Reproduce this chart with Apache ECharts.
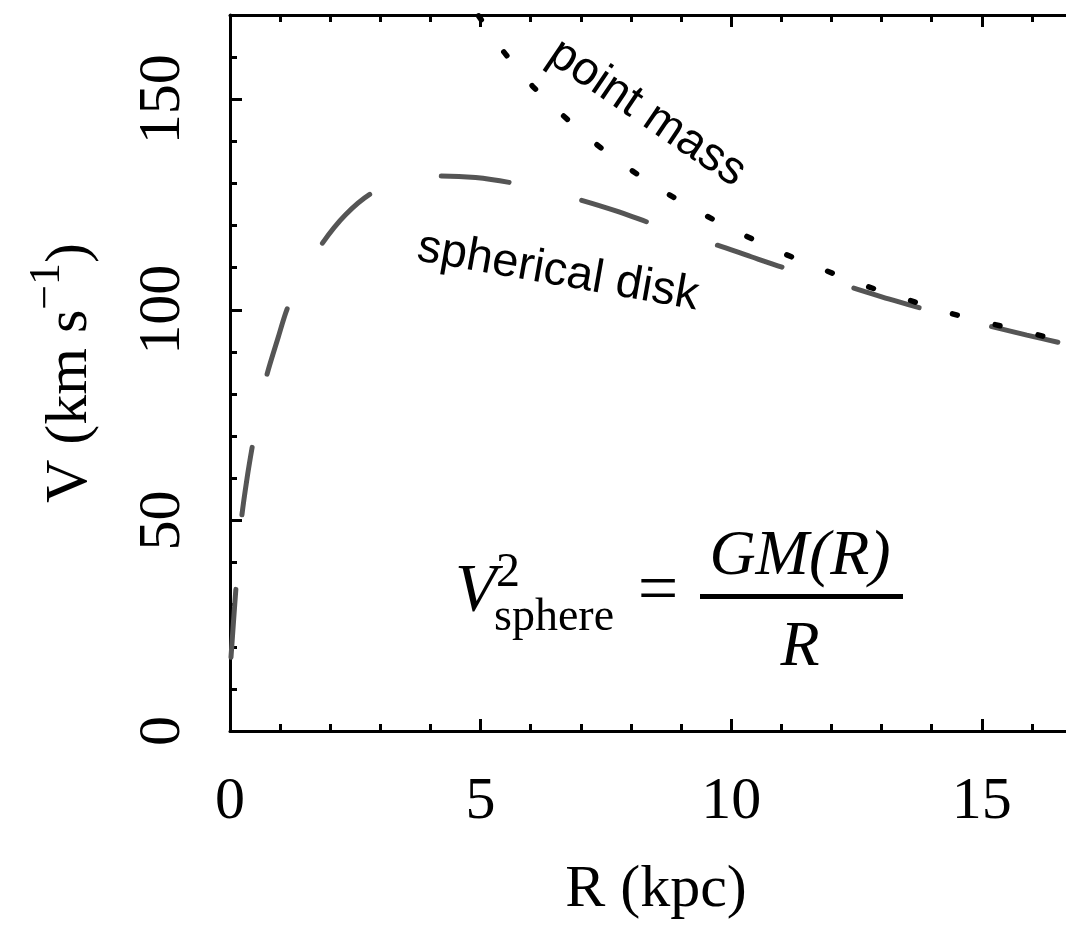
<!DOCTYPE html>
<html>
<head>
<meta charset="utf-8">
<script src="https://cdn.jsdelivr.net/npm/echarts@6/dist/echarts.min.js"></script>
<style>
html,body{margin:0;padding:0;background:#ffffff;}
#chart{width:1066px;height:929px;}
</style>
</head>
<body>
<div id="chart"></div>
<script>
// ---- data ----
// spherical disk rotation curve: R (kpc), V (km/s)
const diskR = [0.02, 0.07, 0.12, 0.18, 0.23, 0.34, 0.45, 0.59, 0.73, 0.95, 1.16, 1.5, 1.83, 2.3, 2.83, 3.5, 4.19, 4.9, 5.64, 6.3, 6.99, 7.7, 8.38, 9.0, 9.71, 10.4, 11.08, 11.76, 12.44, 13.14, 13.84, 14.5, 15.2, 15.9, 16.6, 17.0];
const diskV = [17.5, 26, 34.1, 43, 50.5, 60, 67.9, 77, 84.3, 93, 100.8, 109, 115.6, 122.5, 127.7, 130.8, 131.8, 131.4, 130.1, 128.3, 126.1, 123.5, 120.6, 118, 115.4, 112.6, 109.9, 107.5, 105.2, 102.6, 100.2, 98, 96.0, 94, 92.1, 91.2];
// point mass (Keplerian) curve
const pointR = [4.96, 5.46, 6.03, 6.63, 7.30, 7.99, 8.70, 9.46, 10.25, 11.02, 11.81, 12.63, 13.43, 14.28, 15.12, 15.98, 16.7, 17.0];
const pointV = [169.8, 161.3, 153.2, 146.3, 139.4, 133.3, 127.8, 122.6, 117.8, 113.5, 109.7, 105.9, 102.8, 99.5, 96.9, 94.5, 92.2, 91.4];
// axes
const xRange = [0, 17];
const yRange = [0, 170];
const xMajorStep = 5, xMinorStep = 1;
const yMajorStep = 50, yMinorStep = 10;
const xTitle = 'R (kpc)';
const yTitleMain = 'V (km s';
const yTitleSup = '\u22121';
const labelPoint = 'point mass';
const labelDisk = 'spherical disk';

const tickFont = 'Liberation Serif';
const chart = echarts.init(document.getElementById('chart'), null, {renderer: 'canvas'});

function pairs(a, b) { return a.map((v, i) => [v, b[i]]); }

const axisLine = {show: true, lineStyle: {color: '#000', width: 3}};
function xAx(pos, step, tickLen, opts) {
  return Object.assign({
    type: 'value', position: pos, min: xRange[0], max: xRange[1], interval: step,
    axisLine: {show: false}, splitLine: {show: false},
    axisTick: {show: true, inside: true, length: tickLen, lineStyle: {color: '#000', width: 3}},
    axisLabel: {show: false}
  }, opts || {});
}
function yAx(pos, step, tickLen, opts) {
  return Object.assign({
    type: 'value', position: pos, min: yRange[0], max: yRange[1], interval: step,
    axisLine: {show: false}, splitLine: {show: false},
    axisTick: {show: true, inside: true, length: tickLen, lineStyle: {color: '#000', width: 3}},
    axisLabel: {show: false}
  }, opts || {});
}

const option = {
  backgroundColor: '#ffffff',
  animation: false,
  grid: {left: 230, top: 15, width: 852, height: 716, containLabel: false, outerBoundsMode: 'none'},
  xAxis: [
    xAx('bottom', xMajorStep, 12, {
      axisLine: axisLine,
      axisLabel: {show: true, showMaxLabel: false, margin: 41, color: '#000', fontFamily: tickFont, fontSize: 60},
      name: xTitle, nameLocation: 'middle', nameGap: 129,
      nameTextStyle: {color: '#000', fontFamily: tickFont, fontSize: 60}
    }),
    xAx('bottom', xMinorStep, 7),
    xAx('top', xMajorStep, 12, {axisLine: axisLine}),
    xAx('top', xMinorStep, 7)
  ],
  yAxis: [
    yAx('left', yMajorStep, 12, {
      axisLine: axisLine,
      axisLabel: {show: true, showMaxLabel: false, rotate: 90, margin: 37, color: '#000', fontFamily: tickFont, fontSize: 60},
      name: '', nameLocation: 'middle', nameGap: 130,
      nameTextStyle: {
        color: '#000', fontFamily: tickFont, fontSize: 60,
        rich: {
          a: {fontFamily: tickFont, fontSize: 60, lineHeight: 60, color: '#000'},
          s: {fontFamily: tickFont, fontSize: 44, lineHeight: 44, padding: [0, 0, 46, 0], color: '#000'}
        }
      }
    }),
    yAx('left', yMinorStep, 7)
  ],
  series: [
    {
      name: 'spherical disk', type: 'line', xAxisIndex: 0, yAxisIndex: 0,
      data: pairs(diskR, diskV), showSymbol: false, symbol: 'none', smooth: 0.3,
      lineStyle: {color: '#555555', width: 5, type: [68, 75], cap: 'round'},
      z: 3
    },
    {
      name: 'point mass', type: 'line', xAxisIndex: 0, yAxisIndex: 0,
      data: pairs(pointR, pointV), showSymbol: false, symbol: 'none', smooth: 0.2,
      lineStyle: {color: '#000000', width: 5.5, type: [5, 39], cap: 'round'},
      z: 4
    }
  ],
  graphic: [
    {type: 'text', x: 647, y: 113, rotation: -34 * Math.PI / 180,
     style: {text: labelPoint, font: '47px "Liberation Sans"', fill: '#000', textAlign: 'center', textVerticalAlign: 'middle'}},
    {type: 'text', x: 558, y: 272, rotation: -10 * Math.PI / 180,
     style: {text: labelDisk, font: '47px "Liberation Sans"', fill: '#000', textAlign: 'center', textVerticalAlign: 'middle'}},
    // formula
    {type: 'text', x: 455, y: 592,
     style: {text: 'V', font: 'italic 68px "Liberation Serif"', fill: '#000', textAlign: 'left', textVerticalAlign: 'middle'}},
    {type: 'text', x: 496, y: 573,
     style: {text: '2', font: '48px "Liberation Serif"', fill: '#000', textAlign: 'left', textVerticalAlign: 'middle'}},
    {type: 'text', x: 494, y: 618,
     style: {text: 'sphere', font: '46px "Liberation Serif"', fill: '#000', textAlign: 'left', textVerticalAlign: 'middle'}},
    {type: 'text', x: 658, y: 593,
     style: {text: '=', font: '72px "Liberation Serif"', fill: '#000', textAlign: 'center', textVerticalAlign: 'middle'}},
    {type: 'rect', shape: {x: 700, y: 594, width: 203, height: 5}, style: {fill: '#000'}},
    {type: 'text', x: 800, y: 557,
     style: {text: 'GM(R)', font: 'italic 64px "Liberation Serif"', fill: '#000', textAlign: 'center', textVerticalAlign: 'middle'}},
    {type: 'text', x: 800, y: 648,
     style: {text: 'R', font: 'italic 64px "Liberation Serif"', fill: '#000', textAlign: 'center', textVerticalAlign: 'middle'}}
  ]
};
// y-axis title with superscript via rich text
option.yAxis[0].name = '{a|' + yTitleMain + '}{s|' + yTitleSup + '}{a|)}';
chart.setOption(option);
</script>
</body>
</html>
